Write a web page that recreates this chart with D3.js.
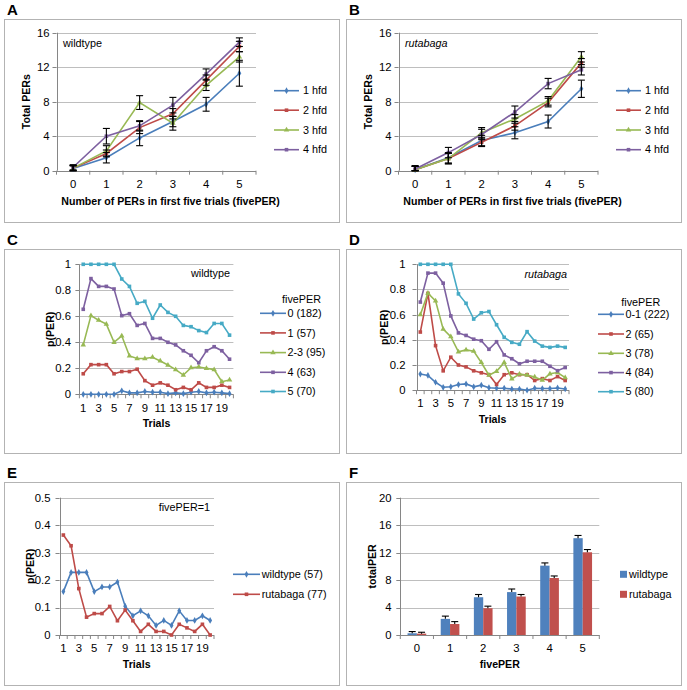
<!DOCTYPE html>
<html><head><meta charset="utf-8">
<script src="https://cdn.jsdelivr.net/npm/d3@7"></script>
<style>
body{margin:0;background:#fff}
text{font-family:"Liberation Sans",Arial,sans-serif;fill:#000}
</style>
</head><body>
<svg id="c" width="687" height="690"></svg>
<script>
// ---------- DATA ----------
const fivePER = ["0","1","2","3","4","5"];
const hfdNames = ["1 hfd","2 hfd","3 hfd","4 hfd"];
// Panel A (wildtype) total PERs by fivePER, per hfd
const wtHfd1 = [0.25,1.5,3.8,5.7,7.7,11.3];
const wtHfd2 = [0.3,2.0,5.0,6.6,10.5,14.4];
const wtHfd3 = [0.3,2.3,7.9,5.5,9.9,13.2];
const wtHfd4 = [0.4,4.0,5.2,7.6,11.2,14.9];
const wtHfd1Err = [0.3,0.6,0.9,0.6,0.8,1.5];
const wtHfd2Err = [0.3,0.4,0.7,0.6,0.6,0.6];
const wtHfd3Err = [0.3,0.6,0.8,0.8,0.6,0.6];
const wtHfd4Err = [0.3,0.9,0.6,0.9,0.6,0.5];
// Panel B (rutabaga)
const rutHfd1 = [0.1,1.5,3.5,4.4,5.7,9.5];
const rutHfd2 = [0.1,1.4,3.3,5.2,7.9,12.5];
const rutHfd3 = [0.1,1.4,4.4,6.0,8.1,13.2];
const rutHfd4 = [0.2,2.1,4.2,6.8,10.1,11.7];
const rutHfd1Err = [0.4,0.6,0.6,0.7,0.75,1.0];
const rutHfd2Err = [0.4,0.6,0.5,0.5,0.5,0.5];
const rutHfd3Err = [0.4,0.6,0.6,0.5,0.5,0.6];
const rutHfd4Err = [0.4,0.6,0.6,0.7,0.6,0.6];
// Panels C-E: p(PER) by trial
const trials = ["1","2","3","4","5","6","7","8","9","10","11","12","13","14","15","16","17","18","19","20"];
const trialTickLabels = ["1","3","5","7","9","11","13","15","17","19"];
const wtGroupNames = ["0 (182)","1 (57)","2-3 (95)","4 (63)","5 (70)"];
const wtP0 = [0,0,0,0,0,0.027,0.011,0.011,0.022,0.016,0.016,0.005,0.011,0.005,0.016,0.022,0.011,0.016,0.011,0.005];
const wtP1 = [0.158,0.228,0.228,0.228,0.158,0.175,0.175,0.193,0.105,0.070,0.088,0.070,0.035,0.053,0.035,0.088,0.053,0.053,0.070,0.053];
const wtP23 = [0.38,0.605,0.57,0.54,0.40,0.45,0.295,0.275,0.275,0.285,0.256,0.225,0.19,0.148,0.205,0.21,0.20,0.19,0.097,0.11];
const wtP4 = [0.654,0.89,0.83,0.83,0.81,0.605,0.62,0.53,0.545,0.43,0.43,0.40,0.38,0.335,0.30,0.243,0.335,0.366,0.335,0.27];
const wtP5 = [1,1,1,1,1,0.887,0.83,0.70,0.715,0.585,0.687,0.63,0.60,0.53,0.52,0.49,0.475,0.545,0.545,0.455];
const rutGroupNames = ["0-1 (222)","2 (65)","3 (78)","4 (84)","5 (80)"];
const rutP01 = [0.128,0.117,0.063,0.023,0.027,0.045,0.05,0.027,0.04,0.02,0.016,0.016,0.009,0.009,0.0,0.016,0.013,0.013,0.018,0.01];
const rutP2 = [0.462,0.769,0.354,0.154,0.262,0.2,0.185,0.154,0.138,0.123,0.046,0.123,0.138,0.123,0.123,0.077,0.092,0.077,0.108,0.077];
const rutP3 = [0.60,0.77,0.71,0.485,0.425,0.305,0.32,0.31,0.22,0.12,0.15,0.22,0.09,0.128,0.12,0.105,0.08,0.13,0.14,0.10];
const rutP4 = [0.70,0.93,0.93,0.85,0.59,0.455,0.435,0.405,0.393,0.325,0.385,0.28,0.25,0.21,0.23,0.23,0.23,0.19,0.155,0.18];
const rutP5 = [1,1,1,1,1,0.765,0.69,0.565,0.615,0.625,0.52,0.42,0.38,0.365,0.465,0.39,0.35,0.34,0.35,0.34];
const e1Names = ["wildtype (57)","rutabaga (77)"];
const e1Wt = [0.158,0.228,0.228,0.228,0.158,0.175,0.175,0.193,0.105,0.070,0.088,0.070,0.035,0.053,0.035,0.088,0.053,0.053,0.070,0.053];
const e1Rut = [0.364,0.325,0.169,0.065,0.078,0.078,0.104,0.052,0.091,0.052,0.013,0.039,0.013,0.013,0,0.039,0.026,0.013,0.039,0];
// Panel F
const fNames = ["wildtype","rutabaga"];
const fWt = [0.25,2.35,5.5,6.25,10.1,14.1];
const fRut = [0.2,1.6,3.9,5.6,8.3,12.05];
const fWtErr = [0.25,0.4,0.4,0.45,0.4,0.4];
const fRutErr = [0.2,0.35,0.3,0.3,0.3,0.4];
// Tick values
const ticksA = [0,4,8,12,16];
const ticksC = [0,0.2,0.4,0.6,0.8,1];
const ticksE = [0,0.1,0.2,0.3,0.4,0.5];
const ticksF = [0,4,8,12,16,20];

// ---------- STYLE ----------
const COL = ["#4A7EBB","#BE4B48","#98B954","#7D60A0","#46AAC5"];
const SYM = [d3.symbolDiamond,d3.symbolSquare,d3.symbolTriangle,d3.symbolSquare,d3.symbolSquare];
const GRID = "#BEBEBE", AXIS = "#868686", BORDER = "#B3B3B3";
const FS = 10.8, FST = 11.3, FSB = 10.6;
const svg = d3.select("#c");

function fmt(v){ return String(+v.toFixed(1)); }

function frame(x0,y0,x1,y1,letter){
  svg.append("rect").attr("x",x0+0.5).attr("y",y0+0.5).attr("width",x1-x0).attr("height",y1-y0)
    .attr("fill","#fff").attr("stroke",BORDER).attr("stroke-width",1);
  svg.append("text").attr("x",x0+3).attr("y",y0-4).attr("font-size",15).attr("font-weight","bold").text(letter);
}

function axes(o, x, y){
  const g = svg.append("g");
  o.ticks.forEach(t=>{
    if(t!==0) g.append("line").attr("x1",o.l).attr("x2",o.r).attr("y1",Math.round(y(t))+0.5).attr("y2",Math.round(y(t))+0.5)
      .attr("stroke",GRID).attr("stroke-width",1);
    g.append("line").attr("x1",o.l-4).attr("x2",o.l).attr("y1",Math.round(y(t))+0.5).attr("y2",Math.round(y(t))+0.5).attr("stroke",AXIS);
    g.append("text").attr("x",o.ytx).attr("y",y(t)).attr("dy","0.35em").attr("text-anchor","end").attr("font-size",FST).text(fmt(t));
  });
  g.append("line").attr("x1",Math.round(o.l)+0.5).attr("x2",Math.round(o.l)+0.5).attr("y1",y(o.ticks[o.ticks.length-1])).attr("y2",y(0)).attr("stroke",AXIS);
  g.append("line").attr("x1",o.l).attr("x2",o.r).attr("y1",Math.round(y(0))+0.5).attr("y2",Math.round(y(0))+0.5).attr("stroke",AXIS);
  const bw = x.step();
  o.cats.forEach((c,i)=>{
    const xb = o.l + i*bw;
    g.append("line").attr("x1",xb).attr("x2",xb).attr("y1",y(0)).attr("y2",y(0)+4).attr("stroke",AXIS);
  });
  g.append("line").attr("x1",o.r).attr("x2",o.r).attr("y1",y(0)).attr("y2",y(0)+4).attr("stroke",AXIS);
  o.cats.forEach(c=>{
    if(o.tickLabels.indexOf(c)<0) return;
    g.append("text").attr("x",x(c)).attr("y",o.xty).attr("dy","0.35em").attr("text-anchor","middle").attr("font-size",FST).text(c);
  });
  g.append("text").attr("transform",`translate(${o.ylx},${(y(0)+y(o.ticks[o.ticks.length-1]))/2}) rotate(-90)`)
    .attr("dy","0.35em").attr("text-anchor","middle").attr("font-size",FSB).attr("font-weight","bold").text(o.ylabel);
  g.append("text").attr("x",o.xlx).attr("y",o.xly).attr("dy","0.35em").attr("text-anchor","middle").attr("font-size",FSB).attr("font-weight","bold").text(o.xlabel);
  if(o.note){
    g.append("text").attr("x",o.note.x).attr("y",o.note.y).attr("dy","0.35em").attr("text-anchor",o.note.anchor)
      .attr("font-size",FS).attr("font-style",o.note.italic?"italic":"normal").text(o.note.text);
  }
}

function linePanel(o){
  const x = d3.scalePoint().domain(o.cats).range([o.l,o.r]).padding(0.5);
  const y = d3.scaleLinear().domain([0,o.ticks[o.ticks.length-1]]).range([o.b,o.t]);
  axes(o,x,y);
  const line = d3.line().x((d,i)=>x(o.cats[i])).y(d=>y(d));
  o.series.forEach((s,si)=>{
    const col = COL[si];
    const sym = SYM[si];
    svg.append("path").attr("d",line(s)).attr("fill","none").attr("stroke",col).attr("stroke-width",1.6);
    svg.append("g").selectAll("path").data(s).join("path")
      .attr("transform",(d,i)=>`translate(${x(o.cats[i])},${y(d)})`)
      .attr("d",d3.symbol(sym,13)).attr("fill",col);
    const ly = o.leg.ys[si];
    svg.append("line").attr("x1",o.leg.x1).attr("x2",o.leg.x2).attr("y1",ly).attr("y2",ly).attr("stroke",col).attr("stroke-width",1.6);
    svg.append("path").attr("transform",`translate(${(o.leg.x1+o.leg.x2)/2},${ly})`).attr("d",d3.symbol(sym,13)).attr("fill",col);
    svg.append("text").attr("x",o.leg.tx).attr("y",ly).attr("dy","0.35em").attr("font-size",FS).text(o.names[si]);
  });
  if(o.leg.title){
    svg.append("text").attr("x",o.leg.title.x).attr("y",o.leg.title.y).attr("dy","0.35em").attr("font-size",FS).text(o.leg.title.text);
  }
  if(o.errs){
    o.series.forEach((s,si)=>{
      const e = o.errs[si];
      s.forEach((v,i)=>{
        const cx = x(o.cats[i]);
        const y1 = y(Math.max(0,v-e[i])), y2 = y(v+e[i]);
        const g = svg.append("g").attr("stroke","#000").attr("stroke-width",1.1);
        g.append("line").attr("x1",cx).attr("x2",cx).attr("y1",y1).attr("y2",y2);
        g.append("line").attr("x1",cx-3.5).attr("x2",cx+3.5).attr("y1",y1).attr("y2",y1);
        g.append("line").attr("x1",cx-3.5).attr("x2",cx+3.5).attr("y1",y2).attr("y2",y2);
      });
    });
  }
}

// ---------- PANEL A ----------
frame(4,19,339,222,"A");
linePanel({cats:fivePER,tickLabels:fivePER,ticks:ticksA,l:56.5,r:256,t:32.7,b:170.7,ytx:49.5,xty:183.7,
  ylabel:"Total PERs",ylx:26.7,xlabel:"Number of PERs in first five trials (fivePER)",xlx:170.5,xly:201,
  note:{text:"wildtype",x:63,y:43,anchor:"start"},
  series:[wtHfd1,wtHfd2,wtHfd3,wtHfd4],errs:[wtHfd1Err,wtHfd2Err,wtHfd3Err,wtHfd4Err],names:hfdNames,
  leg:{x1:274,x2:299,tx:303,ys:[90.7,110.2,130,149.7]}});
// ---------- PANEL B ----------
frame(346,19,681,222,"B");
linePanel({cats:fivePER,tickLabels:fivePER,ticks:ticksA,l:398.5,r:598,t:32.7,b:170.7,ytx:391.5,xty:183.7,
  ylabel:"Total PERs",ylx:368.7,xlabel:"Number of PERs in first five trials (fivePER)",xlx:512.5,xly:201,
  note:{text:"rutabaga",x:405,y:43.3,anchor:"start",italic:true},
  series:[rutHfd1,rutHfd2,rutHfd3,rutHfd4],errs:[rutHfd1Err,rutHfd2Err,rutHfd3Err,rutHfd4Err],names:hfdNames,
  leg:{x1:616,x2:641,tx:645,ys:[90.7,110.2,130,149.7]}});
// ---------- PANEL C ----------
frame(4,249,339,453,"C");
linePanel({cats:trials,tickLabels:trialTickLabels,ticks:ticksC,l:79.4,r:233.4,t:264.3,b:394.3,ytx:71,xty:407.7,
  ylabel:"p(PER)",ylx:50,xlabel:"Trials",xlx:156.5,xly:423.3,
  note:{text:"wildtype",x:230,y:273.3,anchor:"end"},
  series:[wtP0,wtP1,wtP23,wtP4,wtP5],names:wtGroupNames,
  leg:{x1:260,x2:286,tx:287.5,ys:[313.3,332.9,352.6,372.3,391.5],title:{text:"fivePER",x:282,y:299}}});
// ---------- PANEL D ----------
frame(346,249,681,453,"D");
linePanel({cats:trials,tickLabels:trialTickLabels,ticks:ticksC,l:416.5,r:569,t:264.3,b:390.2,ytx:405.5,xty:403.3,
  ylabel:"p(PER)",ylx:384.7,xlabel:"Trials",xlx:492.5,xly:419.3,
  note:{text:"rutabaga",x:567,y:274.3,anchor:"end",italic:true},
  series:[rutP01,rutP2,rutP3,rutP4,rutP5],names:rutGroupNames,
  leg:{x1:598,x2:624,tx:625.5,ys:[314.3,334,353.3,372.6,391.7],title:{text:"fivePER",x:621.3,y:302}}});
// ---------- PANEL E ----------
frame(4,482,339,685,"E");
linePanel({cats:trials,tickLabels:trialTickLabels,ticks:ticksE,l:59.5,r:214,t:497.7,b:635,ytx:50.5,xty:648.3,
  ylabel:"p(PER)",ylx:30,xlabel:"Trials",xlx:136.7,xly:664.3,
  note:{text:"fivePER=1",x:210,y:507.7,anchor:"end"},
  series:[e1Wt,e1Rut],names:e1Names,
  leg:{x1:233,x2:260,tx:261.7,ys:[574.3,594.3]}});
// ---------- PANEL F ----------
frame(346,482,681,685,"F");
(function(){
  const o = {cats:fivePER,tickLabels:fivePER,ticks:ticksF,l:400.3,r:599.3,t:497.7,b:635,ytx:391.5,xty:648.3,
    ylabel:"totalPER",ylx:372,xlabel:"fivePER",xlx:499.8,xly:664.3};
  const x = d3.scaleBand().domain(fivePER).range([o.l,o.r]);
  const y = d3.scaleLinear().domain([0,20]).range([o.b,o.t]);
  const xp = d3.scalePoint().domain(fivePER).range([o.l,o.r]).padding(0.5);
  axes(o,xp,y);
  const bw = x.bandwidth()/3.55;
  const x1 = d3.scaleBand().domain([0,1]).range([-bw,bw]);
  const cols = ["#4F81BD","#C0504D"];
  [[fWt,fWtErr],[fRut,fRutErr]].forEach(([vals,errs],si)=>{
    vals.forEach((v,i)=>{
      const cx = x(fivePER[i]) + x.bandwidth()/2 + x1(si);
      svg.append("rect").attr("x",cx).attr("y",y(v)).attr("width",x1.bandwidth()).attr("height",y(0)-y(v)).attr("fill",cols[si]);
      const mx = cx + x1.bandwidth()/2, ye = y(v+errs[i]);
      const g = svg.append("g").attr("stroke","#000").attr("stroke-width",1.1);
      g.append("line").attr("x1",mx).attr("x2",mx).attr("y1",y(v)).attr("y2",ye);
      g.append("line").attr("x1",mx-3.5).attr("x2",mx+3.5).attr("y1",ye).attr("y2",ye);
    });
    const ly = [574.3,594.3][si];
    svg.append("rect").attr("x",620).attr("y",ly-3.5).attr("width",7).attr("height",7).attr("fill",cols[si]);
    svg.append("text").attr("x",629).attr("y",ly).attr("dy","0.35em").attr("font-size",FS).text(fNames[si]);
  });
})();
</script>
</body></html>
